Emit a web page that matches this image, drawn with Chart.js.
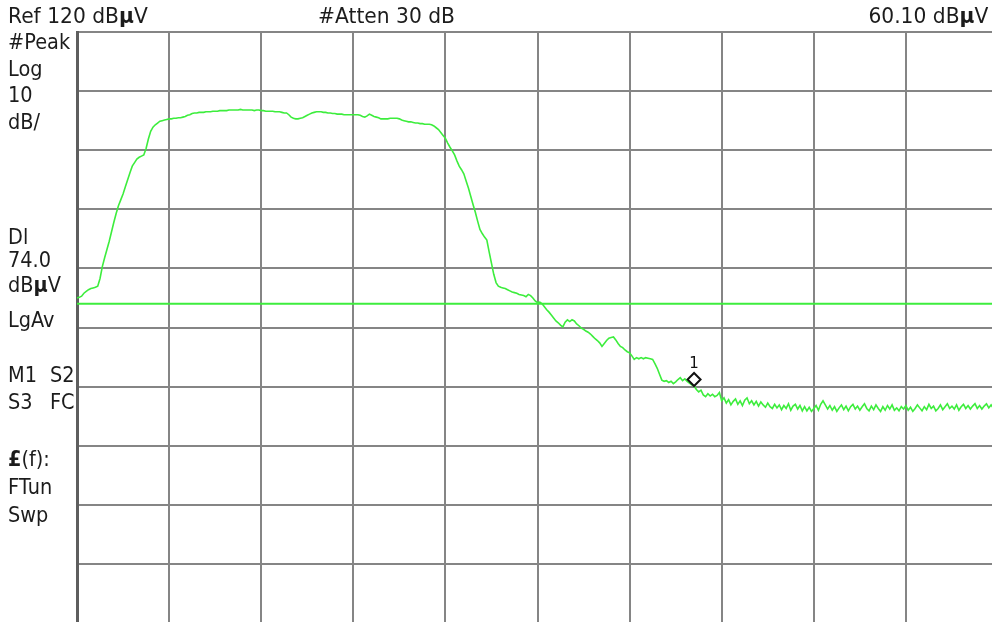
<!DOCTYPE html>
<html>
<head>
<meta charset="utf-8">
<title>Spectrum trace</title>
<script src="https://cdn.jsdelivr.net/npm/chart.js@4.4.0/dist/chart.umd.min.js"></script>
<style>
html, body { margin: 0; padding: 0; background: #fff; overflow: hidden; width: 992px; height: 622px; }
#wrap { position: absolute; left: 0; top: 0; width: 1000px; height: 624px; }
.lbl { position: absolute; font-family: "DejaVu Sans", sans-serif; font-size: 21px; line-height: 21px;
       color: #1c1c1c; white-space: pre; transform-origin: 0 0; transform: scaleX(0.92); }
.top { font-size: 22px; line-height: 22px; }
.right { transform-origin: 100% 0; }
</style>
</head>
<body>
<div id="wrap"><canvas id="screen" width="1000" height="624"></canvas></div>

<div class="lbl top" style="left:8px; top:5px">Ref 120 dB<b>µ</b>V</div>
<div class="lbl top" style="left:318px; top:5px">#Atten 30 dB</div>
<div class="lbl top right" style="right:4px; top:5px">60.10 dB<b>µ</b>V</div>

<div class="lbl" style="left:8px; top:32px">#Peak</div>
<div class="lbl" style="left:8px; top:59px">Log</div>
<div class="lbl" style="left:8px; top:85px">10</div>
<div class="lbl" style="left:8px; top:112px">dB/</div>
<div class="lbl" style="left:8px; top:227px">Dl</div>
<div class="lbl" style="left:8px; top:250px">74.0</div>
<div class="lbl" style="left:8px; top:275px">dB<b>µ</b>V</div>
<div class="lbl" style="left:8px; top:310px">LgAv</div>
<div class="lbl" style="left:8px; top:365px">M1</div>
<div class="lbl" style="left:50px; top:365px">S2</div>
<div class="lbl" style="left:8px; top:392px">S3</div>
<div class="lbl" style="left:50px; top:392px">FC</div>
<div class="lbl" style="left:8px; top:449px"><b>£</b>(f):</div>
<div class="lbl" style="left:8px; top:477px">FTun</div>
<div class="lbl" style="left:8px; top:505px">Swp</div>

<script>
// screen settings
const refLevel = 120;      // dBuV, top graticule line
const bottomLevel = 20;    // 10 div x 10 dB
const dbPerDiv = 10;
const sweepPoints = 401;
const displayLine = 74.0;  // dBuV
const markerIndex = 268;
const markerLevel = 60.10;
const markerLabel = '1';

// trace, one value per sweep point (dBuV)
const traceDbuv = [
  75.0, 75.1, 75.3, 75.8, 76.1, 76.4, 76.6, 76.7, 76.8, 77.0,
  78.3, 80.3, 81.8, 83.2, 84.6, 86.2, 87.8, 89.3, 90.6, 91.6,
  92.6, 93.8, 95.0, 96.2, 97.3, 97.9, 98.5, 98.8, 99.0, 99.2,
  100.3, 101.9, 103.2, 103.9, 104.3, 104.6, 104.9, 105.0, 105.1, 105.2,
  105.3, 105.3, 105.4, 105.4, 105.5, 105.5, 105.6, 105.7, 105.9, 106.0,
  106.2, 106.3, 106.3, 106.4, 106.4, 106.4, 106.5, 106.5, 106.5, 106.6,
  106.6, 106.6, 106.7, 106.7, 106.7, 106.7, 106.8, 106.8, 106.8, 106.8,
  106.8, 106.9, 106.8, 106.8, 106.8, 106.8, 106.8, 106.7, 106.8, 106.8,
  106.7, 106.7, 106.6, 106.6, 106.6, 106.6, 106.5, 106.5, 106.5, 106.4,
  106.3, 106.3, 106.0, 105.6, 105.4, 105.3, 105.3, 105.4, 105.5, 105.7,
  105.9, 106.1, 106.3, 106.4, 106.5, 106.5, 106.5, 106.4, 106.4, 106.3,
  106.3, 106.2, 106.2, 106.1, 106.1, 106.1, 106.0, 106.0, 106.0, 106.0,
  106.0, 106.0, 106.0, 105.9, 105.7, 105.6, 105.8, 106.1, 105.9, 105.7,
  105.6, 105.5, 105.3, 105.3, 105.3, 105.3, 105.4, 105.4, 105.4, 105.4,
  105.3, 105.1, 105.0, 104.9, 104.8, 104.8, 104.7, 104.6, 104.6, 104.5,
  104.5, 104.4, 104.4, 104.4, 104.3, 104.1, 103.8, 103.5, 103.0, 102.5,
  102.0, 101.2, 100.5, 99.9, 99.2, 98.2, 97.3, 96.7, 96.0, 94.8,
  93.6, 92.2, 90.8, 89.5, 88.0, 86.6, 85.9, 85.3, 84.8, 82.8,
  80.9, 79.0, 77.6, 77.0, 76.8, 76.7, 76.6, 76.4, 76.2, 76.0,
  75.9, 75.8, 75.6, 75.5, 75.4, 75.2, 75.6, 75.4, 75.0, 74.5,
  74.2, 74.3, 74.0, 73.5, 73.0, 72.6, 72.1, 71.6, 71.1, 70.8,
  70.4, 70.1, 70.9, 71.3, 71.0, 71.3, 71.1, 70.6, 70.3, 69.9,
  69.7, 69.4, 69.2, 68.9, 68.5, 68.1, 67.8, 67.4, 66.8, 67.3,
  67.8, 68.2, 68.3, 68.4, 67.9, 67.3, 66.8, 66.6, 66.2, 65.9,
  65.7, 65.2, 64.6, 64.9, 64.7, 64.9, 64.7, 64.9, 64.8, 64.7,
  64.6, 63.9, 63.1, 62.1, 61.1, 60.9, 61.0, 60.7, 60.9, 60.5,
  60.8, 61.2, 61.5, 61.0, 61.3, 60.9, 60.6, 60.3, 60.1, 59.5,
  59.1, 59.4, 58.6, 58.3, 58.8, 58.4, 58.7, 58.3, 58.5, 59.0,
  57.6, 58.1, 57.2, 57.8, 56.9, 57.5, 57.9, 57.0, 57.6, 56.8,
  57.7, 58.1, 57.1, 57.6, 56.9, 57.5, 56.7, 57.4, 56.9, 56.5,
  57.2, 56.6, 56.3, 57.0, 56.4, 56.9, 56.1, 56.8, 56.3, 57.1,
  56.0, 56.7, 57.0, 56.2, 56.8, 55.9, 56.6, 55.9, 56.5, 55.8,
  56.3, 56.8, 56.0, 57.0, 57.6, 56.9, 56.2, 56.8, 56.0, 56.6,
  55.8, 56.4, 56.9, 56.1, 56.7, 55.9, 56.6, 57.0, 56.2, 56.7,
  56.0, 56.6, 57.1, 56.3, 55.9, 56.7, 56.1, 56.9, 56.3, 55.8,
  56.6, 56.0, 56.8, 56.2, 56.9, 56.0, 56.4, 55.9, 56.6, 56.2,
  56.8, 56.0, 56.5, 55.8, 56.3, 56.9, 56.4, 55.9, 56.6, 56.1,
  57.0, 56.3, 56.7, 55.9, 56.3, 56.9, 56.1, 56.6, 57.1, 56.3,
  56.7, 56.2, 56.9, 56.0, 56.6, 57.0, 56.3, 56.8, 56.2, 56.7,
  57.1, 56.3, 56.8, 56.2, 56.7, 57.1, 56.4, 56.9, 56.3, 56.8,
  56.5
];

const traceGreen = '#3ded3d';
const gridGray = '#858585';

// diamond marker with its tip on the trace, number above it
const markerPlugin = {
  id: 'marker1',
  afterDatasetsDraw(chart) {
    const { ctx, scales: { x, y } } = chart;
    const px = x.getPixelForValue(markerIndex);
    const py = y.getPixelForValue(markerLevel);
    const h = 6.5;
    ctx.save();
    ctx.strokeStyle = '#111';
    ctx.lineWidth = 2;
    ctx.beginPath();
    ctx.moveTo(px, py);
    ctx.lineTo(px + h, py - h);
    ctx.lineTo(px, py - 2 * h);
    ctx.lineTo(px - h, py - h);
    ctx.closePath();
    ctx.stroke();
    ctx.fillStyle = '#111';
    ctx.font = '15px "DejaVu Sans"';
    ctx.textAlign = 'center';
    ctx.textBaseline = 'alphabetic';
    ctx.fillText(markerLabel, px, py - 2 * h - 5);
    ctx.restore();
  }
};

const ctx = document.getElementById('screen').getContext('2d');

new Chart(ctx, {
  type: 'line',
  data: {
    datasets: [
      {
        label: 'Display line',
        data: [{ x: 0, y: displayLine }, { x: sweepPoints - 1, y: displayLine }],
        borderColor: traceGreen,
        borderWidth: 2,
        pointRadius: 0
      },
      {
        label: 'Trace',
        data: traceDbuv.map((v, i) => ({ x: i, y: v })),
        borderColor: traceGreen,
        borderWidth: 1.6,
        pointRadius: 0,
        tension: 0
      }
    ]
  },
  options: {
    responsive: false,
    animation: false,
    devicePixelRatio: 1,
    layout: { padding: { left: 77, top: 32, right: 2, bottom: 1 } },
    plugins: { legend: { display: false }, tooltip: { enabled: false } },
    scales: {
      x: {
        type: 'linear',
        min: 0,
        max: sweepPoints - 1,
        ticks: { display: false, stepSize: (sweepPoints - 1) / 10 },
        grid: { color: gridGray, lineWidth: 2, drawTicks: false },
        border: { display: true, color: gridGray, width: 2 }
      },
      y: {
        min: bottomLevel,
        max: refLevel,
        ticks: { display: false, stepSize: dbPerDiv },
        grid: { color: gridGray, lineWidth: 2, drawTicks: false },
        border: { display: true, color: '#5e5e5e', width: 3 }
      }
    }
  },
  plugins: [markerPlugin]
});
</script>
</body>
</html>
